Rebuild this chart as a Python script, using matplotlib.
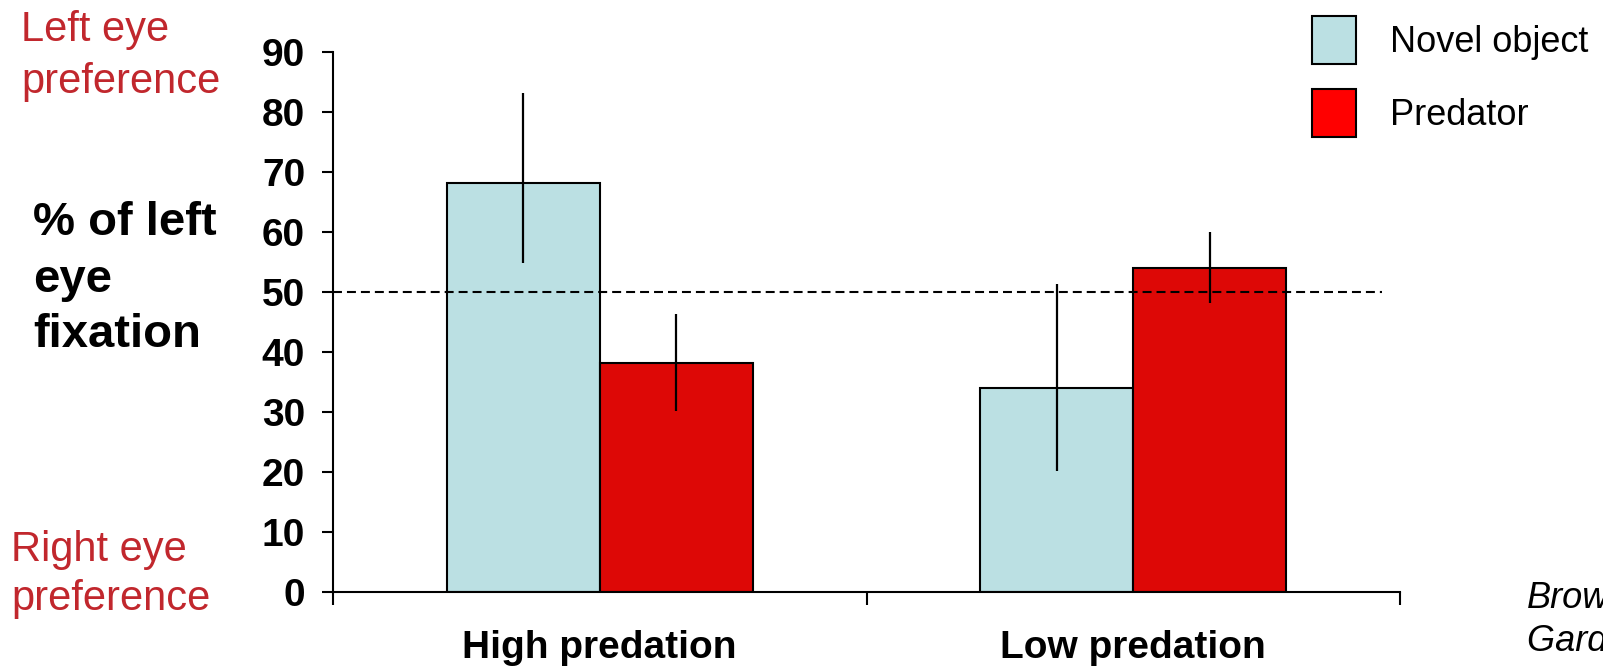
import matplotlib.pyplot as plt
from matplotlib.patches import Patch

plt.rcParams['font.family'] = ['Liberation Sans', 'DejaVu Sans']

groups = ["High predation", "Low predation"]
series = ["Novel object", "Predator"]
novel = [68.2, 34.0]
novel_err_lo = [13.3, 13.8]
novel_err_hi = [15.1, 17.4]
predator = [38.2, 54.0]
pred_err_lo = [8.0, 5.8]
pred_err_hi = [8.1, 6.0]
yticks = [0, 10, 20, 30, 40, 50, 60, 70, 80, 90]
chance = 50

bar_colors = ["#BBE0E3", "#DD0806"]
legend_colors = ["#BBE0E3", "#FF0000"]
red_text = "#C1272D"

fig = plt.figure(figsize=(16.03, 6.70), dpi=100)
ax = fig.add_axes([333/1603, 1-592.3/670, 1067/1603, 540/670])

x = range(len(groups))
w = 0.287
xn = [i - w/2 for i in x]
xp = [i + w/2 for i in x]

ax.bar(xn, novel, width=w, color=bar_colors[0], edgecolor="black", linewidth=1.5, zorder=2)
ax.bar(xp, predator, width=w, color=bar_colors[1], edgecolor="black", linewidth=1.5, zorder=2)
ax.errorbar(xn, novel, yerr=[novel_err_lo, novel_err_hi], fmt="none", ecolor="black",
            elinewidth=1.6, capsize=0, zorder=3)
ax.errorbar(xp, predator, yerr=[pred_err_lo, pred_err_hi], fmt="none", ecolor="black",
            elinewidth=1.6, capsize=0, zorder=3)

ax.hlines(chance, -0.5, 1.466, colors="black", linestyles=(0, (4.3, 2.4)), linewidth=1.5, zorder=4)

ax.set_xlim(-0.5, 1.5)
ax.set_ylim(0, 90)
ax.spines["top"].set_visible(False)
ax.spines["right"].set_visible(False)
ax.spines["left"].set_linewidth(1.5)
ax.spines["bottom"].set_linewidth(1.5)

ax.set_yticks(yticks)
ax.set_yticklabels([str(v) for v in yticks], fontsize=28, fontweight="bold")
ax.tick_params(axis="y", length=8, width=1.5, pad=12)

ax.set_xticks([-0.5, 0.5, 1.5])
ax.set_xticklabels([])
ax.set_xticks(list(x), minor=True)
ax.set_xticklabels(groups, minor=True, fontsize=28, fontweight="bold")
ax.tick_params(axis="x", which="major", length=9, width=1.5)
ax.tick_params(axis="x", which="minor", length=0, pad=27.5)

# left side labels
fig.text(21/1603, 1-41/670, "Left eye", color=red_text, fontsize=30, va="baseline")
fig.text(21/1603, 1-93/670, "preference", color=red_text, fontsize=30, va="baseline")
fig.text(11/1603, 1-561/670, "Right eye", color=red_text, fontsize=30, va="baseline")
fig.text(11/1603, 1-610/670, "preference", color=red_text, fontsize=30, va="baseline")
fig.text(33/1603, 1-235/670, "% of left", fontsize=34, fontweight="bold", va="baseline")
fig.text(33/1603, 1-292/670, "eye", fontsize=34, fontweight="bold", va="baseline")
fig.text(33/1603, 1-347/670, "fixation", fontsize=34, fontweight="bold", va="baseline")

# citation
fig.text(1527/1603, 1-608/670, "Brown,", fontsize=26, style="italic", va="baseline")
fig.text(1527/1603, 1-651/670, "Gardner & Braithwaite", fontsize=26, style="italic", va="baseline")

handles = [Patch(facecolor=c, edgecolor="black", linewidth=1.5) for c in legend_colors]
fig.legend(handles, series, loc="upper left", bbox_to_anchor=(1312/1603, 1-16/670),
           frameon=False, fontsize=26, borderpad=0, borderaxespad=0,
           handlelength=1.22, handleheight=1.674, labelspacing=0.68, handletextpad=0.94)

plt.savefig("out.png", dpi=100)
